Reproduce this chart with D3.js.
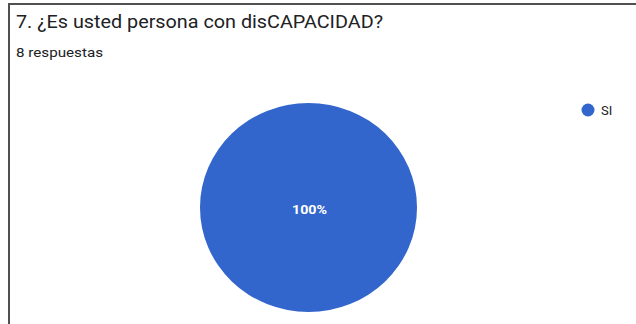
<!DOCTYPE html>
<html>
<head>
<meta charset="utf-8">
<script src="https://cdn.jsdelivr.net/npm/d3@7"></script>
<style>
  body { margin: 0; background: #fff; }
  svg { display: block; font-family: Roboto, Arial, sans-serif; }
</style>
</head>
<body>
<div id="chart"></div>
<script>
const width = 636,
      height = 324;

const title = '7. ¿Es usted persona con disCAPACIDAD?',
      subtitle = '8 respuestas';

const categories = ['SI'],
      counts = [8],
      colors = ['#3366cc'];

const data = categories.map((c, i) => ({ label: c, value: counts[i] }));
const total = d3.sum(counts);

const svg = d3.select('#chart').append('svg')
    .attr('width', width)
    .attr('height', height);

// card border (left + top)
svg.append('path')
    .attr('d', 'M9,324 V4 H636')
    .attr('fill', 'none')
    .attr('stroke', '#505050')
    .attr('stroke-width', 2);

// screenshot text looks a bit stretched, so fit widths to the reference
svg.append('text')
    .attr('x', 16)
    .attr('y', 28)
    .attr('font-size', 18.5)
    .attr('fill', '#202124')
    .attr('textLength', 367)
    .attr('lengthAdjust', 'spacingAndGlyphs')
    .text(title);

svg.append('text')
    .attr('x', 16)
    .attr('y', 57)
    .attr('font-size', 13)
    .attr('fill', '#202124')
    .attr('textLength', 87)
    .attr('lengthAdjust', 'spacingAndGlyphs')
    .text(subtitle);

const cx = 308.5, cy = 207.5, r = 104.5;

const color = d3.scaleOrdinal()
    .domain(categories)
    .range(colors);

const pie = d3.pie().sort(null).value(d => d.value);
const arc = d3.arc().innerRadius(0).outerRadius(r);

const plot = svg.append('g')
    .attr('transform', `translate(${cx}, ${cy}) scale(1.038, 1)`);

plot.selectAll('path')
    .data(pie(data))
    .enter().append('path')
      .attr('d', arc)
      .attr('fill', d => color(d.data.label));

svg.selectAll('.pct')
    .data(pie(data))
    .enter().append('text')
      .attr('class', 'pct')
      .attr('x', d => data.length === 1 ? cx + 1 : cx + arc.centroid(d)[0] * 1.2)
      .attr('y', d => (data.length === 1 ? cy : cy + arc.centroid(d)[1] * 1.2) + 2.5)
      .attr('text-anchor', 'middle')
      .attr('dominant-baseline', 'middle')
      .attr('font-size', 13.5)
      .attr('font-weight', 'bold')
      .attr('fill', '#fff')
      .attr('textLength', 35)
      .attr('lengthAdjust', 'spacingAndGlyphs')
      .text(d => Math.round(d.data.value / total * 100) + '%');

const legend = svg.selectAll('.leg')
    .data(data)
    .enter().append('g')
      .attr('class', 'leg')
      .attr('transform', (d, i) => `translate(588, ${110 + i * 22})`);

legend.append('circle')
    .attr('r', 6.5)
    .attr('fill', d => color(d.label));

legend.append('text')
    .attr('x', 13)
    .attr('y', 4.5)
    .attr('font-size', 13)
    .attr('fill', '#222')
    .text(d => d.label);
</script>
</body>
</html>
